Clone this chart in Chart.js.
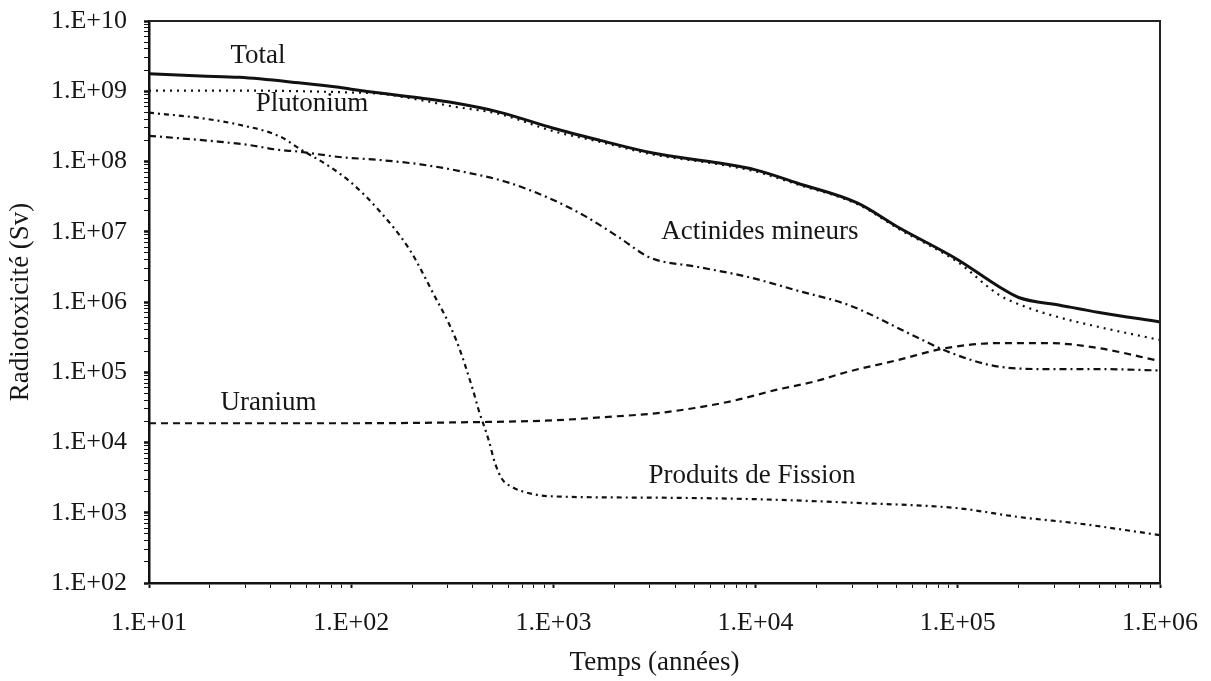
<!DOCTYPE html>
<html>
<head>
<meta charset="utf-8">
<script src="https://cdn.jsdelivr.net/npm/chart.js@4.4.1/dist/chart.umd.min.js"></script>
<style>
html,body{margin:0;padding:0;background:#fff;}
#wrap{width:1211px;height:681px;position:relative;}
</style>
</head>
<body>
<div id="wrap"><canvas id="c" width="1211" height="681"></canvas></div>
<script>
// ---- Data (years, Sv) ----
const totalYears  = [10, 18, 28, 55, 87, 100, 220, 316, 540, 1000, 1700, 3100, 6600, 10000, 16000, 32000, 51000, 100000, 160000, 200000, 320000, 500000, 1000000];
const totalValues = [1.77e9, 1.65e9, 1.58e9, 1.32e9, 1.14e9, 1.07e9, 8.0e8, 6.9e8, 5.05e8, 2.97e8, 2.0e8, 1.32e8, 9.5e7, 7.6e7, 4.95e7, 2.56e7, 1.15e7, 4.0e6, 1.65e6, 1.16e6, 9.0e5, 7.1e5, 5.2e5];

const plutoniumYears  = [10, 30, 100, 140, 220, 316, 540, 1000, 1700, 3100, 6600, 10000, 16000, 32000, 51000, 100000, 160000, 220000, 320000, 500000, 1000000];
const plutoniumValues = [1.02e9, 1.02e9, 9.6e8, 9.2e8, 7.5e8, 6.1e8, 4.75e8, 2.7e8, 1.9e8, 1.26e8, 9.1e7, 7.2e7, 4.75e7, 2.46e7, 1.1e7, 3.7e6, 1.26e6, 8.4e5, 6.0e5, 4.4e5, 2.88e5];

const actinidesYears  = [10, 22, 31, 44, 54, 87, 138, 220, 380, 600, 980, 1450, 2100, 3000, 5200, 9300, 16000, 29000, 62000, 91000, 160000, 280000, 500000, 1000000];
const actinidesValues = [2.32e8, 1.92e8, 1.72e8, 1.46e8, 1.39e8, 1.16e8, 1.05e8, 9.1e7, 6.9e7, 5.0e7, 2.9e7, 1.64e7, 8.4e6, 4.3e6, 3.15e6, 2.25e6, 1.46e6, 9.0e5, 3.2e5, 1.92e5, 1.2e5, 1.11e5, 1.11e5, 1.06e5];

const uraniumYears  = [10, 100, 316, 1000, 2000, 3200, 5000, 7900, 12600, 20000, 28000, 50000, 87000, 160000, 280000, 500000, 1000000];
const uraniumValues = [1.88e4, 1.88e4, 1.93e4, 2.07e4, 2.35e4, 2.6e4, 3.1e4, 3.97e4, 5.6e4, 7.5e4, 1.0e5, 1.48e5, 2.2e5, 2.6e5, 2.6e5, 2.2e5, 1.44e5];

const fissionYears  = [10, 18, 28, 44, 56, 79, 100, 138, 195, 250, 330, 400, 427, 479, 513, 556, 630, 794, 1000, 3160, 10000, 31600, 100000, 200000, 400000, 1000000];
const fissionValues = [4.95e8, 4.15e8, 3.33e8, 2.3e8, 1.5e8, 8.3e7, 5.0e7, 1.98e7, 5.5e6, 1.46e6, 2.9e5, 5.6e4, 2.9e4, 1.07e4, 5.2e3, 3.05e3, 2.3e3, 1.84e3, 1.71e3, 1.64e3, 1.56e3, 1.38e3, 1.16e3, 8.7e2, 7.0e2, 4.8e2];

const seriesNames = ['Total', 'Plutonium', 'Actinides mineurs', 'Uranium', 'Produits de Fission'];
const labelYears  = [34.6, 64, 10500, 39, 9600];
const labelValues = [3.18e9, 6.6e8, 9.9e6, 3.65e4, 3.33e3];

const yTickPowers = [2, 3, 4, 5, 6, 7, 8, 9, 10];
const xTickPowers = [1, 2, 3, 4, 5, 6];

// ---- Helpers ----
function pts(xs, ys){ return xs.map((x,i)=>({x:x, y:ys[i]})); }
function fmtPow(v){
  const e = Math.round(Math.log10(v));
  return '1.E+' + (e < 10 ? '0' + e : '' + e);
}
function isPow(v){ const l = Math.log10(v); return Math.abs(l - Math.round(l)) < 1e-6; }
function logTicks(powers){
  const out = [];
  for (let i = 0; i < powers.length; i++){
    const p = powers[i];
    out.push({value: Math.pow(10,p), major:true});
    if (i < powers.length - 1){
      for (let m = 2; m <= 9; m++) out.push({value: m*Math.pow(10,p), major:false});
    }
  }
  return out;
}
function zeroPad(s){ s.paddingTop = 0; s.paddingBottom = 0; s.paddingLeft = 0; s.paddingRight = 0; }

const FONT = '"Liberation Serif", "DejaVu Serif", serif';
Chart.defaults.font.family = FONT;
Chart.defaults.color = '#161616';

const common = {fill:false, pointRadius:0, borderColor:'#111', tension:0.35, cubicInterpolationMode:'monotone', showLine:true};

const labelsPlugin = {
  id:'seriesLabels',
  afterDatasetsDraw(chart){
    const ctx = chart.ctx, xs = chart.scales.x, ys = chart.scales.y;
    ctx.save();
    ctx.fillStyle = '#161616';
    ctx.font = '27px ' + FONT;
    ctx.textAlign = 'center';
    ctx.textBaseline = 'middle';
    seriesNames.forEach((n,i)=>{
      ctx.fillText(n, xs.getPixelForValue(labelYears[i]), ys.getPixelForValue(labelValues[i]));
    });
    ctx.restore();
  }
};
const framePlugin = {
  id:'frame',
  afterDraw(chart){
    const a = chart.chartArea, ctx = chart.ctx;
    ctx.save();
    ctx.strokeStyle = '#222';
    ctx.lineWidth = 2;
    ctx.beginPath();
    ctx.moveTo(a.left, a.top); ctx.lineTo(a.right, a.top); ctx.lineTo(a.right, a.bottom);
    ctx.stroke();
    ctx.restore();
  }
};

new Chart(document.getElementById('c'), {
  type:'scatter',
  data:{
    datasets:[
      Object.assign({label:'Total', data:pts(totalYears,totalValues), borderWidth:3}, common),
      Object.assign({label:'Plutonium', data:pts(plutoniumYears,plutoniumValues), borderWidth:2.2, borderDash:[2,5]}, common),
      Object.assign({label:'Actinides mineurs', data:pts(actinidesYears,actinidesValues), borderWidth:2.2, borderDash:[7,4,2,4]}, common),
      Object.assign({label:'Uranium', data:pts(uraniumYears,uraniumValues), borderWidth:2.2, borderDash:[7,5]}, common),
      Object.assign({label:'Produits de Fission', data:pts(fissionYears,fissionValues), borderWidth:2.2, borderDash:[5,4,2,4]}, common)
    ]
  },
  options:{
    responsive:false,
    animation:false,
    layout:{padding:{left:3, right:51, top:21, bottom:0}},
    plugins:{legend:{display:false}, tooltip:{enabled:false}, title:{display:false}},
    scales:{
      x:{
        type:'logarithmic',
        min:10, max:1e6,
        afterBuildTicks(s){ s.ticks = logTicks(xTickPowers); },
        afterFit(s){ s.height = 98; zeroPad(s); },
        border:{display:true, color:'#111', width:2.5},
        grid:{drawOnChartArea:false, drawTicks:true, tickLength:5, color:'#111',
              tickWidth:(c)=> (c.tick && isPow(c.tick.value)) ? 2 : 1},
        ticks:{autoSkip:false, maxRotation:0, padding:20, font:{size:26}, color:'#161616',
               callback:(v)=> isPow(v) ? fmtPow(v) : ''},
        title:{display:true, text:'Temps (années)', font:{size:27}, color:'#161616', padding:{top:0,bottom:2}}
      },
      y:{
        type:'logarithmic',
        min:100, max:1e10,
        afterBuildTicks(s){ s.ticks = logTicks(yTickPowers); },
        afterFit(s){ s.width = 146; zeroPad(s); },
        border:{display:true, color:'#111', width:2.5},
        grid:{drawOnChartArea:false, drawTicks:true, tickLength:5, color:'#111',
              tickWidth:(c)=> (c.tick && isPow(c.tick.value)) ? 2.5 : 1},
        ticks:{autoSkip:false, padding:17, font:{size:26}, color:'#161616',
               callback:(v)=> isPow(v) ? fmtPow(v) : ''},
        title:{display:true, text:'Radiotoxicité (Sv)', font:{size:27}, color:'#161616', padding:{top:2,bottom:0}}
      }
    }
  },
  plugins:[labelsPlugin, framePlugin]
});
</script>
</body>
</html>
